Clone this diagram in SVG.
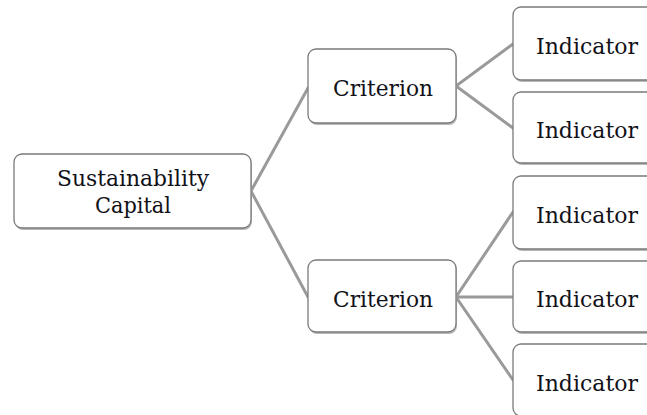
<svg xmlns="http://www.w3.org/2000/svg" width="647" height="415" viewBox="0 0 647 415">
  <style>
    .shadow { fill: #b8b8b8; stroke: none; }
    .box { fill: #ffffff; stroke: #7a7a7a; stroke-width: 1.3; }
    .link { stroke: #9a9a9a; stroke-width: 3; fill: none; stroke-linecap: round; }
    text { fill: #111118; text-anchor: middle; }
  </style>
  <rect width="647" height="415" fill="#ffffff"/>

  <!-- tree branches -->
  <g id="connectors">
    <polyline class="link" points="308,88 251,191 308,297"/>
    <polyline class="link" points="513,44 456,86 513,128"/>
    <polyline class="link" points="513,212 456,297 513,380"/>
    <line class="link" x1="456" y1="297" x2="513" y2="297"/>
  </g>

  <g font-family="'DejaVu Serif', serif" font-size="23">
    <g id="root">
      <rect class="shadow" x="15" y="156" width="237" height="74" rx="8"/>
      <rect class="box" x="14" y="154" width="237" height="74" rx="8"/>
      <text x="133" y="186" textLength="152" lengthAdjust="spacingAndGlyphs">Sustainability</text>
      <text x="133" y="213" textLength="76" lengthAdjust="spacingAndGlyphs">Capital</text>
    </g>

    <g id="criterion-1">
      <rect class="shadow" x="309" y="51" width="148" height="74" rx="8"/>
      <rect class="box" x="308" y="49" width="148" height="74" rx="8"/>
      <text x="383" y="96" textLength="100" lengthAdjust="spacingAndGlyphs">Criterion</text>
    </g>

    <g id="criterion-2">
      <rect class="shadow" x="309" y="262" width="148" height="72" rx="8"/>
      <rect class="box" x="308" y="260" width="148" height="72" rx="8"/>
      <text x="383" y="307" textLength="100" lengthAdjust="spacingAndGlyphs">Criterion</text>
    </g>

    <g id="indicator-1">
      <rect class="shadow" x="514" y="9" width="148" height="73" rx="8"/>
      <rect class="box" x="513" y="7" width="148" height="73" rx="8"/>
      <text x="587" y="54" textLength="102" lengthAdjust="spacingAndGlyphs">Indicator</text>
    </g>

    <g id="indicator-2">
      <rect class="shadow" x="514" y="94" width="148" height="71" rx="8"/>
      <rect class="box" x="513" y="92" width="148" height="71" rx="8"/>
      <text x="587" y="138" textLength="102" lengthAdjust="spacingAndGlyphs">Indicator</text>
    </g>

    <g id="indicator-3">
      <rect class="shadow" x="514" y="178" width="148" height="73" rx="8"/>
      <rect class="box" x="513" y="176" width="148" height="73" rx="8"/>
      <text x="587" y="223" textLength="102" lengthAdjust="spacingAndGlyphs">Indicator</text>
    </g>

    <g id="indicator-4">
      <rect class="shadow" x="514" y="263" width="148" height="71" rx="8"/>
      <rect class="box" x="513" y="261" width="148" height="71" rx="8"/>
      <text x="587" y="307" textLength="102" lengthAdjust="spacingAndGlyphs">Indicator</text>
    </g>

    <g id="indicator-5">
      <rect class="shadow" x="514" y="346" width="148" height="72" rx="8"/>
      <rect class="box" x="513" y="344" width="148" height="72" rx="8"/>
      <text x="587" y="391" textLength="102" lengthAdjust="spacingAndGlyphs">Indicator</text>
    </g>
  </g>
</svg>
